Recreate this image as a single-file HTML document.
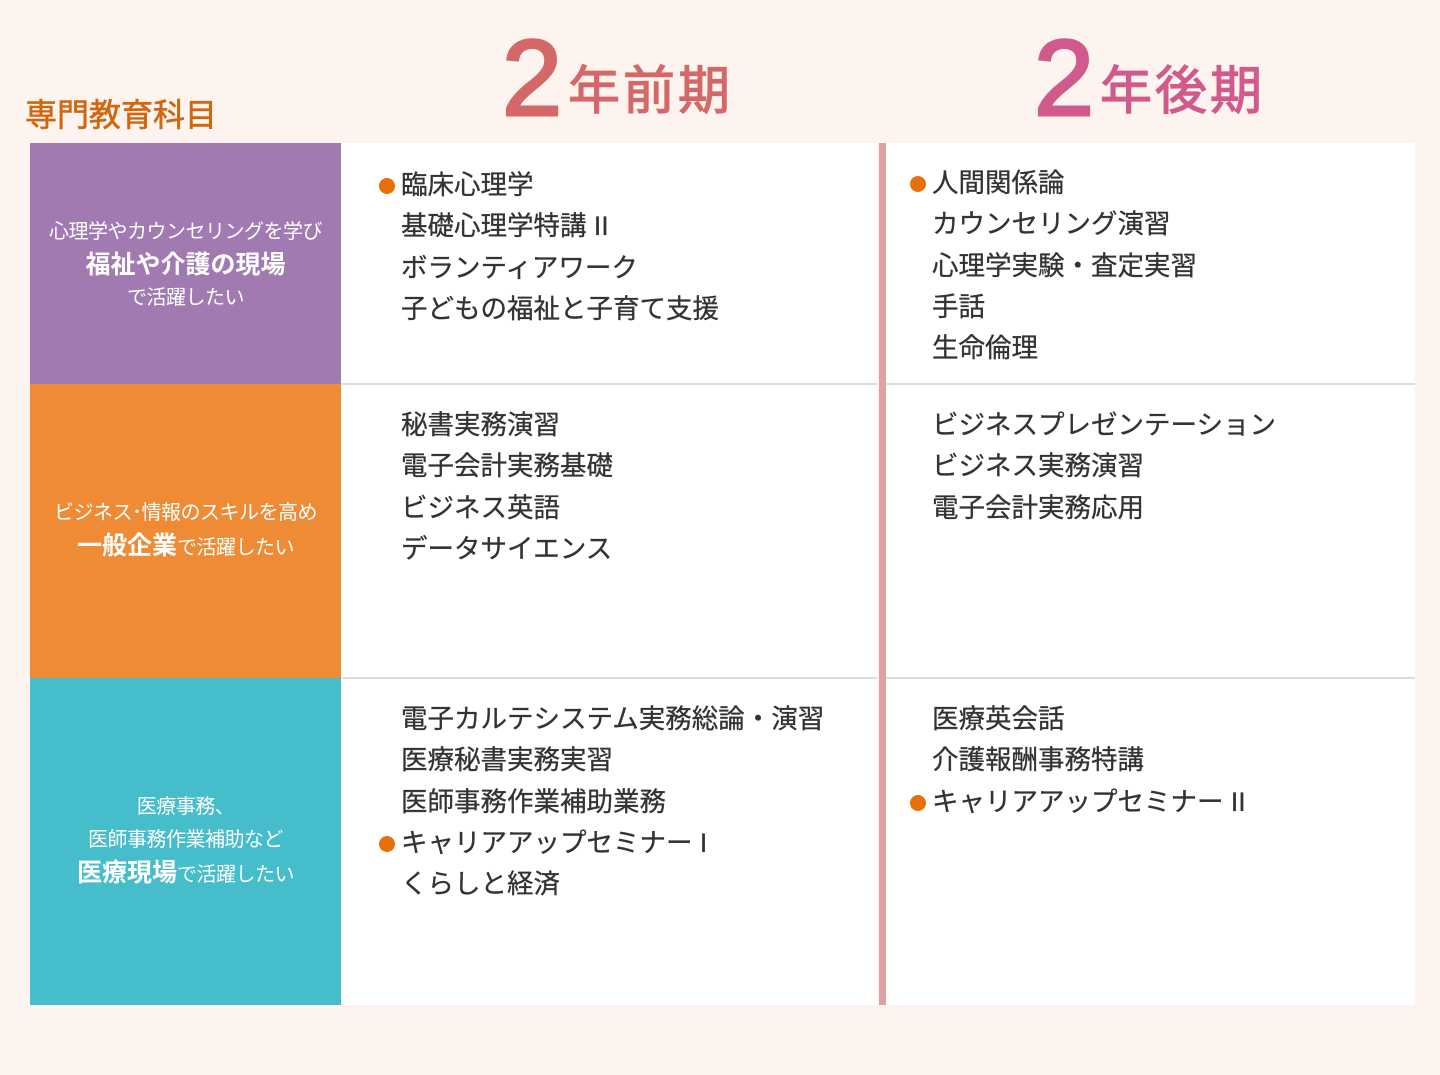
<!DOCTYPE html>
<html><head><meta charset="utf-8"><style>
*{margin:0;padding:0;box-sizing:border-box}
body{width:1440px;height:1075px;background:#fdf4ef;position:relative;overflow:hidden;font-family:"Liberation Sans","Noto Sans CJK JP",sans-serif}
.a{position:absolute}
.cell{position:absolute;color:#fff;display:flex;flex-direction:column;align-items:center;justify-content:center;text-align:center;font-size:20px;line-height:33px;letter-spacing:-0.5px}
.cell b{font-size:25px;letter-spacing:0}
.list{position:absolute;font-size:26.5px;line-height:41.3px;color:#333;white-space:nowrap;-webkit-text-stroke:0.3px #333}
.list div{position:relative}
.dot{position:absolute;left:-22px;top:13px;width:16px;height:16px;border-radius:50%;background:#e8700a}
.h{-webkit-text-stroke:1.2px currentColor}
</style></head><body>
<div class="a h" style="left:25px;top:90px;font-size:32px;color:#d0670f;-webkit-text-stroke:0.6px #d0670f">専門教育科目</div>
<div class="a h" style="left:502px;top:18px;font-size:108px;line-height:120px;color:#d46868;-webkit-text-stroke:3px #d46868">2</div>
<div class="a h" style="left:568px;top:60px;font-size:52px;line-height:64px;color:#d46868;letter-spacing:3px">年前期</div>
<div class="a h" style="left:1034px;top:18px;font-size:108px;line-height:120px;color:#d05a8c;-webkit-text-stroke:3px #d05a8c">2</div>
<div class="a h" style="left:1100px;top:60px;font-size:52px;line-height:64px;color:#d05a8c;letter-spacing:3px">年後期</div>

<div class="a" style="left:341px;top:143px;width:536px;height:862px;background:#fff"></div>
<div class="a" style="left:886px;top:143px;width:529px;height:862px;background:#fff"></div>
<div class="a" style="left:879px;top:143px;width:7px;height:862px;background:#dea2a4"></div>
<div class="a" style="left:341px;top:383px;width:536px;height:2px;background:#ddd"></div>
<div class="a" style="left:886px;top:383px;width:529px;height:2px;background:#ddd"></div>
<div class="a" style="left:341px;top:677px;width:536px;height:2px;background:#ddd"></div>
<div class="a" style="left:886px;top:677px;width:529px;height:2px;background:#ddd"></div>

<div class="cell" style="left:30px;top:143px;width:311px;height:241px;background:#a07ab1;padding-top:4px"><div>心理学やカウンセリングを学び</div><b>福祉や介護の現場</b><div>で活躍したい</div></div>
<div class="cell" style="left:30px;top:384px;width:311px;height:294px;background:#f08b35"><div>ビジネス･情報のスキルを高め</div><div><b>一般企業</b>で活躍したい</div></div>
<div class="cell" style="left:30px;top:678px;width:311px;height:327px;background:#45bdca"><div>医療事務、</div><div>医師事務作業補助など</div><div><b>医療現場</b>で活躍したい</div></div>

<div class="list" style="left:401px;top:165px"><div><span class="dot"></span>臨床心理学</div><div>基礎心理学特講 II</div><div>ボランティアワーク</div><div>子どもの福祉と子育て支援</div></div>
<div class="list" style="left:932px;top:163px"><div><span class="dot"></span>人間関係論</div><div>カウンセリング演習</div><div>心理学実験・査定実習</div><div>手話</div><div>生命倫理</div></div>
<div class="list" style="left:401px;top:405px"><div>秘書実務演習</div><div>電子会計実務基礎</div><div>ビジネス英語</div><div>データサイエンス</div></div>
<div class="list" style="left:932px;top:405px"><div>ビジネスプレゼンテーション</div><div>ビジネス実務演習</div><div>電子会計実務応用</div></div>
<div class="list" style="left:401px;top:699px"><div>電子カルテシステム実務総論・演習</div><div>医療秘書実務実習</div><div>医師事務作業補助業務</div><div><span class="dot"></span>キャリアアップセミナー I</div><div>くらしと経済</div></div>
<div class="list" style="left:932px;top:699px"><div>医療英会話</div><div>介護報酬事務特講</div><div><span class="dot"></span>キャリアアップセミナー II</div></div>
</body></html>
